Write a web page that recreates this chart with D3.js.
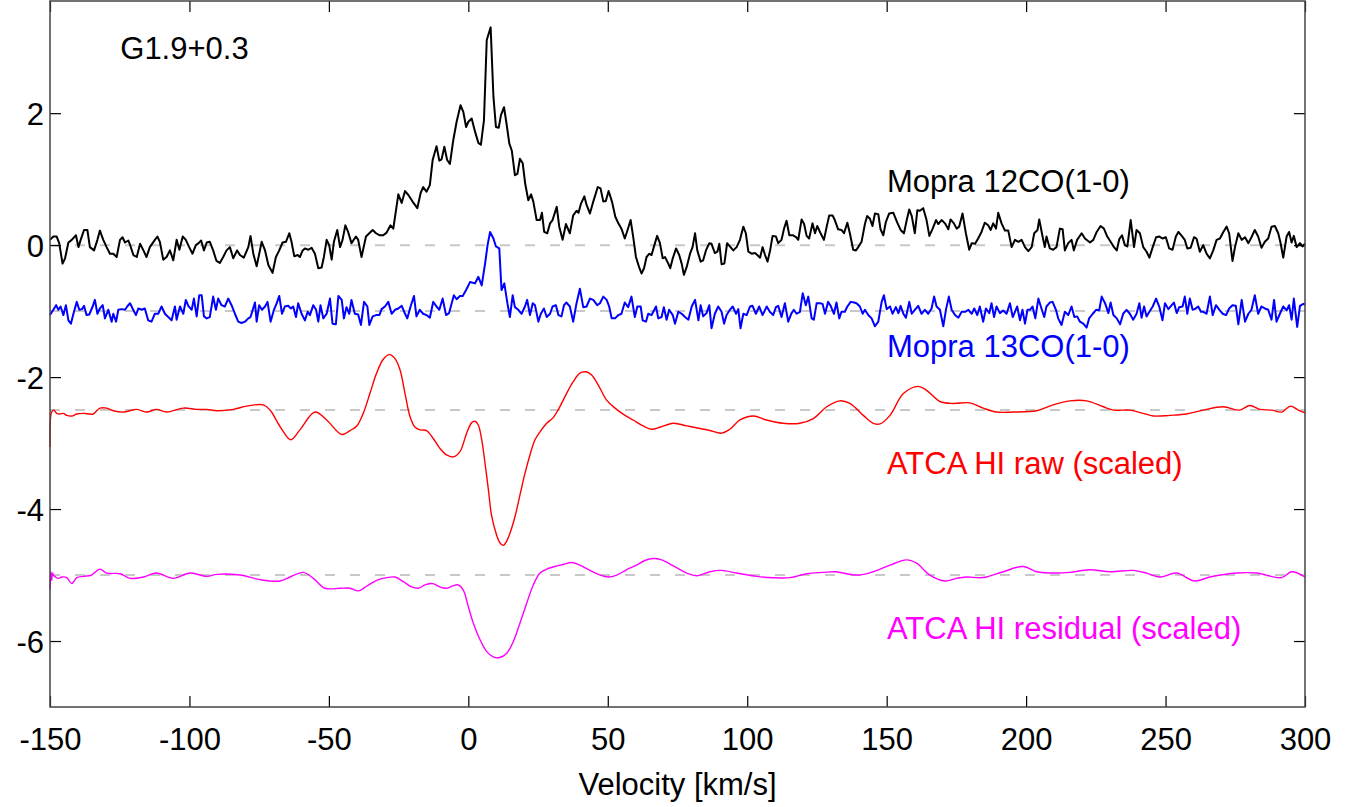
<!DOCTYPE html>
<html>
<head>
<meta charset="utf-8">
<script src="https://cdn.jsdelivr.net/npm/d3@7"></script>
<style>
  body { margin: 0; background: #fff; }
  text { font-family: "Liberation Sans", Arial, Helvetica, sans-serif; }
</style>
</head>
<body>
<div class="chart"></div>
<script>
// spectra: [velocity km/s, value]
const co12 = [
[-150.0,0.08],[-148.8,0.13],[-147.6,0.13],[-146.7,0.03],[-145.5,-0.28],[-144.6,-0.20],[-143.4,0.04],[-142.2,0.08],[-140.7,0.15],[-139.8,-0.03],
[-139.0,0.08],[-137.8,0.23],[-136.6,0.23],[-135.7,-0.03],[-134.2,-0.08],[-133.0,0.08],[-132.1,0.22],[-130.9,0.08],[-129.7,-0.03],[-128.5,-0.13],
[-127.3,-0.13],[-126.1,-0.18],[-124.9,0.08],[-124.0,0.12],[-123.1,0.04],[-121.9,0.07],[-121.1,-0.02],[-120.1,-0.15],[-118.9,-0.18],[-117.7,0.02],
[-116.5,-0.08],[-115.4,-0.18],[-114.2,-0.03],[-112.4,0.08],[-111.5,0.13],[-110.6,0.05],[-109.4,-0.22],[-108.2,-0.18],[-107.0,-0.08],[-105.8,-0.23],
[-104.6,0.08],[-103.6,-0.07],[-102.4,0.13],[-101.3,0.08],[-100.1,-0.03],[-98.9,-0.13],[-97.7,0.00],[-96.7,0.03],[-95.8,0.07],[-94.8,-0.08],
[-93.8,0.04],[-92.7,0.05],[-91.5,-0.08],[-90.3,-0.24],[-89.1,-0.27],[-87.9,-0.18],[-86.7,-0.08],[-85.5,-0.03],[-84.3,-0.20],[-82.9,-0.08],
[-81.9,-0.15],[-80.5,-0.19],[-78.9,-0.03],[-78.1,0.14],[-77.1,-0.13],[-75.9,-0.32],[-74.1,0.05],[-72.9,-0.08],[-71.7,-0.30],[-70.2,-0.42],
[-69.0,-0.18],[-67.8,-0.08],[-66.6,0.04],[-65.4,0.05],[-64.2,0.18],[-63.4,0.05],[-62.4,-0.17],[-61.2,-0.15],[-60.4,-0.18],[-59.4,-0.08],
[-58.6,-0.05],[-57.4,-0.07],[-56.2,-0.04],[-55.0,-0.13],[-53.8,-0.35],[-52.6,-0.34],[-51.8,-0.18],[-50.8,0.08],[-49.9,0.00],[-49.0,-0.22],
[-48.2,0.05],[-47.0,0.23],[-46.0,-0.03],[-45.1,0.08],[-44.1,0.30],[-43.1,0.20],[-41.9,0.03],[-40.3,0.13],[-39.5,0.08],[-38.3,-0.18],
[-36.7,0.13],[-35.5,0.18],[-34.3,0.23],[-33.1,0.18],[-31.9,0.15],[-30.5,0.15],[-29.3,0.19],[-27.9,0.30],[-26.9,0.25],[-25.1,0.77],
[-23.9,0.64],[-22.7,0.82],[-21.5,0.76],[-20.0,0.66],[-18.3,0.56],[-17.1,0.79],[-16.2,0.88],[-15.0,0.81],[-13.8,0.91],[-12.8,1.29],
[-11.4,1.50],[-10.4,1.28],[-9.6,1.30],[-8.6,1.49],[-7.6,1.29],[-6.6,1.23],[-5.4,1.59],[-4.2,1.87],[-2.8,2.12],[-1.8,2.02],
[-0.8,1.79],[0.0,1.87],[1.2,1.92],[2.4,1.72],[3.6,1.55],[4.5,1.52],[5.6,1.89],[6.6,3.11],[8.0,3.30],[9.0,2.25],
[9.9,1.79],[10.9,1.78],[11.7,1.97],[12.8,2.09],[13.7,1.84],[14.7,1.54],[15.6,1.43],[16.7,1.06],[17.6,1.08],[18.5,1.31],
[19.5,1.24],[20.4,0.93],[21.5,0.68],[22.5,0.77],[23.3,0.66],[24.5,0.38],[25.7,0.38],[26.4,0.49],[27.2,0.20],[28.3,0.18],
[29.3,0.33],[30.2,0.38],[31.7,0.58],[32.6,0.28],[33.8,0.08],[35.0,0.32],[36.4,0.18],[37.6,0.45],[38.8,0.52],[39.5,0.49],
[40.4,0.63],[41.6,0.74],[42.4,0.61],[43.6,0.48],[44.8,0.66],[46.4,0.88],[47.4,0.86],[48.4,0.66],[49.3,0.67],[50.3,0.82],
[51.5,0.66],[52.7,0.43],[53.8,0.33],[54.9,0.25],[56.1,0.10],[57.1,0.23],[58.2,0.38],[59.1,0.13],[60.1,-0.18],[61.2,-0.33],
[62.1,-0.43],[63.0,-0.35],[63.9,-0.18],[64.9,-0.13],[65.7,-0.15],[66.5,-0.03],[67.7,0.14],[68.7,0.03],[69.7,-0.20],[70.5,-0.18],
[71.7,-0.28],[72.4,-0.35],[73.3,-0.20],[74.5,-0.05],[75.6,-0.15],[76.5,-0.28],[77.3,-0.45],[78.3,-0.33],[79.5,-0.13],[80.4,-0.03],
[81.3,0.18],[82.1,-0.08],[83.3,-0.25],[84.2,-0.23],[85.2,-0.08],[86.4,0.03],[87.2,0.02],[88.4,-0.12],[89.3,-0.10],[90.0,0.02],
[90.8,-0.29],[91.8,-0.28],[92.8,0.03],[94.0,-0.03],[95.0,-0.08],[96.2,-0.03],[97.4,0.08],[98.6,0.28],[99.5,0.18],[100.4,-0.10],
[101.6,-0.13],[102.8,-0.12],[103.6,-0.15],[104.6,-0.19],[105.5,-0.03],[106.4,-0.15],[107.3,-0.25],[108.2,-0.08],[109.1,0.14],[110.3,0.13],
[111.1,0.03],[112.3,0.08],[113.2,0.25],[114.1,0.37],[115.1,0.15],[116.3,0.15],[117.5,0.12],[118.3,0.08],[119.5,0.39],[120.4,0.32],
[121.3,0.14],[122.2,0.10],[123.4,0.33],[124.3,0.18],[125.1,0.29],[126.3,0.18],[127.5,0.08],[128.5,0.28],[129.4,0.45],[130.6,0.45],
[131.4,0.38],[132.6,0.24],[133.8,0.23],[134.7,0.18],[135.9,0.34],[136.8,0.18],[138.0,-0.07],[139.0,-0.08],[139.8,-0.03],[141.0,0.05],
[142.2,0.32],[143.0,0.44],[144.0,0.40],[144.9,0.29],[145.8,0.48],[147.0,0.47],[147.8,0.24],[148.8,0.15],[149.7,0.35],[150.9,0.48],
[152.4,0.49],[153.8,0.34],[155.0,0.23],[156.2,0.18],[157.2,0.38],[158.1,0.54],[159.0,0.44],[160.1,0.18],[161.0,0.53],[161.9,0.52],
[163.1,0.56],[164.3,0.38],[165.3,0.14],[166.5,0.25],[167.7,0.38],[168.5,0.32],[169.7,0.38],[170.9,0.33],[172.1,0.24],[172.9,0.39],
[174.1,0.33],[175.1,0.25],[176.0,0.28],[177.2,0.48],[178.4,0.18],[179.6,-0.07],[180.5,0.03],[181.7,0.02],[182.8,0.10],[184.0,0.20],
[185.2,0.34],[186.4,0.30],[187.3,0.23],[188.2,0.33],[189.2,0.25],[190.0,0.49],[191.2,0.33],[192.4,0.22],[193.6,0.22],[194.8,-0.03],
[196.0,0.08],[197.2,0.05],[198.4,0.08],[199.6,-0.03],[200.8,-0.09],[202.0,-0.03],[202.9,0.18],[204.1,0.23],[204.7,0.39],[205.9,0.13],
[206.7,-0.03],[207.3,0.13],[208.5,-0.05],[209.7,-0.07],[210.9,-0.03],[212.1,0.25],[213.1,0.24],[213.9,-0.08],[215.1,0.03],[216.3,0.08],
[217.1,-0.08],[218.3,0.08],[219.9,0.18],[221.1,0.10],[222.9,0.04],[224.1,0.08],[225.3,0.20],[226.7,0.29],[227.9,0.25],[229.1,0.13],
[230.3,0.05],[231.5,-0.03],[232.5,-0.08],[233.4,0.09],[234.4,0.15],[235.4,0.00],[236.3,-0.02],[237.5,0.38],[238.7,-0.03],[239.6,0.23],
[240.8,0.18],[242.0,-0.03],[243.2,-0.10],[244.2,-0.19],[245.4,-0.03],[246.6,0.12],[247.8,0.13],[248.9,0.10],[250.1,0.12],[251.3,-0.05],
[252.5,-0.07],[253.7,0.13],[254.6,0.20],[255.8,0.14],[256.9,0.08],[257.8,-0.05],[259.0,-0.04],[260.2,0.12],[261.1,0.10],[262.3,-0.10],
[263.5,0.00],[264.7,-0.13],[265.9,-0.20],[267.1,-0.08],[268.3,0.08],[269.5,0.10],[270.7,0.20],[271.9,0.28],[272.8,0.18],[274.0,-0.24],
[274.9,-0.03],[276.1,0.18],[277.3,0.08],[278.5,0.12],[279.7,0.03],[280.8,0.12],[282.0,0.23],[283.2,0.13],[284.4,-0.04],[285.6,0.05],
[286.8,0.10],[288.0,0.28],[289.2,0.29],[290.4,0.18],[291.2,0.04],[292.2,-0.19],[293.4,0.13],[294.3,0.20],[295.2,0.04],[296.0,0.14],
[297.0,-0.03],[298.2,0.03],[299.1,-0.02],[300.0,0.02]
];

const co13 = [
[-150.0,-1.06],[-148.8,-0.98],[-147.8,-0.91],[-147.0,-0.98],[-146.2,-0.93],[-145.2,-1.06],[-144.3,-0.91],[-143.4,-1.14],[-142.5,-1.19],[-141.6,-1.04],
[-140.4,-0.86],[-139.5,-0.98],[-138.5,-0.97],[-137.8,-0.92],[-136.9,-1.06],[-135.9,-1.05],[-134.7,-0.93],[-133.9,-0.83],[-133.0,-1.04],[-132.1,-0.96],
[-131.1,-0.91],[-130.3,-1.11],[-129.1,-0.98],[-127.9,-1.16],[-127.3,-1.04],[-126.3,-1.16],[-125.5,-0.98],[-124.3,-0.97],[-123.1,-0.98],[-122.3,-0.93],
[-121.3,-0.88],[-120.4,-0.96],[-119.2,-1.06],[-118.3,-0.96],[-117.1,-0.98],[-116.0,-0.96],[-114.8,-1.14],[-113.6,-1.16],[-112.4,-1.04],[-111.2,-1.04],
[-110.0,-0.93],[-108.8,-1.04],[-107.6,-1.09],[-106.4,-1.14],[-105.2,-0.93],[-104.6,-1.13],[-103.4,-0.93],[-102.2,-1.04],[-101.3,-0.83],[-100.4,-0.92],
[-99.2,-0.98],[-98.4,-0.81],[-97.4,-1.08],[-96.5,-0.76],[-95.6,-0.76],[-94.8,-1.08],[-93.8,-1.11],[-92.7,-1.09],[-91.5,-0.78],[-90.5,-0.98],
[-89.7,-0.81],[-88.5,-0.91],[-87.3,-0.93],[-86.1,-0.81],[-84.9,-0.91],[-83.7,-1.04],[-82.5,-1.16],[-81.3,-1.18],[-80.1,-1.16],[-78.9,-1.11],
[-78.1,-1.09],[-77.3,-0.98],[-76.5,-0.87],[-75.9,-1.16],[-75.0,-0.91],[-74.0,-0.98],[-72.9,-0.93],[-72.0,-0.86],[-70.9,-1.16],[-69.7,-0.98],
[-68.7,-0.88],[-67.8,-0.77],[-66.8,-1.04],[-65.8,-0.93],[-64.6,-0.92],[-63.6,-0.96],[-62.8,-0.93],[-61.8,-1.09],[-61.0,-0.88],[-59.8,-1.04],
[-58.6,-1.14],[-57.6,-1.01],[-56.8,-1.06],[-55.6,-0.91],[-54.6,-0.98],[-53.8,-1.16],[-53.0,-0.91],[-52.0,-1.11],[-50.8,-1.04],[-49.6,-0.81],
[-48.7,-1.19],[-47.5,-1.20],[-46.6,-0.77],[-45.4,-0.83],[-44.6,-1.11],[-43.7,-0.94],[-42.7,-1.04],[-41.9,-0.83],[-40.7,-1.04],[-39.5,-1.05],
[-38.5,-1.21],[-37.4,-0.86],[-36.2,-0.93],[-35.5,-1.21],[-34.3,-1.08],[-33.1,-1.06],[-31.9,-1.06],[-31.1,-0.97],[-29.9,-0.93],[-28.7,-0.86],
[-27.5,-1.04],[-26.3,-0.98],[-25.1,-0.96],[-23.9,-0.92],[-22.7,-1.04],[-21.9,-1.11],[-20.7,-0.93],[-19.5,-0.77],[-18.6,-1.08],[-17.4,-0.98],
[-16.2,-1.04],[-15.0,-1.06],[-13.8,-1.10],[-12.6,-0.86],[-11.4,-0.93],[-10.4,-0.98],[-9.2,-0.81],[-8.0,-1.06],[-6.9,-1.03],[-5.2,-0.76],
[-4.2,-0.82],[-3.0,-0.77],[-2.0,-0.77],[-0.8,-0.68],[0.6,-0.56],[2.4,-0.58],[3.6,-0.48],[4.8,-0.61],[6.0,-0.28],[6.9,0.00],
[7.8,0.20],[9.0,0.10],[9.9,-0.02],[11.1,-0.05],[11.9,-0.68],[12.9,-0.58],[14.0,-0.88],[14.9,-1.09],[15.9,-0.76],[16.7,-0.94],
[17.9,-0.98],[19.1,-1.04],[20.3,-0.93],[21.1,-0.83],[22.1,-1.06],[23.1,-0.88],[23.9,-0.91],[25.1,-1.16],[26.0,-1.04],[27.1,-0.96],
[28.1,-1.09],[29.3,-1.04],[30.2,-0.93],[31.4,-0.91],[32.3,-1.06],[33.4,-1.08],[34.3,-0.91],[35.2,-0.87],[36.4,-0.93],[37.6,-1.16],
[38.8,-0.88],[40.0,-0.66],[41.2,-0.94],[42.4,-0.93],[43.6,-0.81],[44.8,-0.83],[46.2,-0.91],[47.2,-0.88],[48.4,-0.78],[49.6,-0.83],
[50.5,-0.93],[51.4,-1.11],[52.6,-1.11],[53.8,-1.06],[54.9,-1.04],[56.1,-0.87],[57.3,-0.94],[58.5,-0.78],[59.7,-1.09],[60.6,-0.93],
[61.8,-0.93],[62.5,-1.14],[63.7,-1.16],[64.5,-1.04],[65.7,-1.06],[67.3,-0.93],[68.1,-1.11],[69.3,-1.09],[70.1,-0.94],[71.1,-1.13],
[72.0,-0.98],[73.3,-1.06],[74.1,-1.19],[75.3,-1.01],[76.5,-1.04],[77.7,-1.09],[78.9,-1.13],[80.1,-0.93],[81.3,-0.83],[82.5,-1.14],
[83.3,-0.91],[84.2,-1.08],[85.4,-1.03],[86.4,-0.91],[87.2,-1.26],[88.4,-1.04],[89.6,-0.93],[90.8,-1.01],[91.7,-1.19],[92.6,-1.06],
[93.8,-0.98],[94.8,-0.93],[96.0,-1.04],[96.8,-0.97],[97.6,-1.26],[98.6,-1.04],[99.8,-1.06],[101.0,-0.93],[101.9,-0.92],[103.1,-1.04],
[104.3,-0.93],[105.5,-1.06],[107.0,-0.93],[108.1,-1.01],[109.3,-1.06],[110.3,-0.94],[111.1,-0.92],[112.3,-1.09],[113.5,-0.88],[114.7,-1.16],
[115.9,-1.03],[116.7,-0.98],[117.7,-1.04],[118.9,-1.01],[119.9,-0.73],[121.0,-0.91],[121.9,-0.78],[123.1,-1.11],[123.9,-1.13],[124.9,-0.88],
[126.1,-0.88],[127.0,-0.89],[127.9,-1.04],[129.0,-0.86],[129.9,-0.92],[131.1,-1.04],[132.0,-0.87],[133.0,-1.11],[133.8,-1.01],[135.0,-1.01],
[135.9,-0.93],[137.1,-0.86],[138.3,-0.87],[139.2,-0.88],[140.4,-0.93],[141.4,-1.04],[142.2,-0.98],[143.4,-1.06],[144.6,-1.11],[145.8,-1.23],
[147.0,-1.16],[148.2,-0.86],[149.0,-0.76],[150.0,-0.97],[151.2,-0.93],[152.1,-1.04],[153.3,-0.94],[154.2,-1.03],[155.0,-0.92],[156.0,-1.04],
[156.9,-1.10],[158.1,-0.86],[159.0,-1.04],[160.1,-0.98],[161.3,-0.92],[162.5,-1.04],[163.7,-0.98],[164.9,-1.04],[166.1,-0.96],[167.0,-0.78],
[167.9,-0.93],[169.1,-0.98],[170.3,-1.23],[171.3,-0.97],[172.3,-0.78],[173.3,-0.98],[174.5,-1.06],[175.7,-1.10],[176.9,-1.01],[178.1,-1.01],
[179.3,-0.98],[180.5,-1.04],[181.4,-0.96],[182.5,-1.06],[183.4,-0.93],[184.6,-1.16],[185.6,-0.96],[186.8,-1.03],[187.6,-0.88],[188.5,-1.09],
[189.4,-0.93],[190.6,-1.03],[191.8,-0.99],[193.0,-1.04],[194.2,-0.88],[195.2,-1.09],[196.0,-1.01],[196.8,-0.93],[197.8,-1.14],[198.7,-0.98],
[199.6,-1.19],[200.5,-0.98],[201.4,-0.98],[202.3,-0.93],[203.3,-1.11],[204.4,-0.81],[205.5,-0.96],[206.5,-1.09],[207.3,-0.93],[208.5,-0.87],
[209.5,-0.86],[210.7,-0.98],[211.5,-1.11],[212.7,-1.21],[213.9,-1.01],[215.1,-1.06],[216.3,-0.93],[217.3,-1.09],[218.3,-1.08],[219.3,-1.16],
[220.5,-1.19],[221.7,-1.25],[222.6,-1.11],[223.9,-1.04],[225.1,-0.98],[226.2,-0.99],[227.1,-0.78],[228.3,-0.88],[229.5,-1.03],[230.3,-0.87],
[231.3,-1.06],[232.5,-1.11],[233.7,-1.20],[234.8,-1.04],[236.0,-0.98],[237.2,-1.04],[238.4,-1.13],[239.6,-1.04],[240.6,-0.88],[241.4,-1.10],
[242.3,-0.93],[243.2,-1.08],[244.2,-1.01],[245.4,-0.93],[246.6,-0.81],[247.8,-0.94],[248.9,-1.14],[249.8,-0.88],[251.0,-0.97],[252.2,-0.91],
[253.0,-0.87],[254.0,-1.03],[254.9,-0.94],[256.1,-0.93],[256.9,-0.78],[257.8,-1.04],[258.7,-0.81],[259.7,-0.98],[260.5,-0.97],[261.7,-0.93],
[262.7,-1.01],[263.5,-1.01],[264.7,-1.04],[265.9,-0.78],[266.9,-1.06],[268.1,-0.91],[269.3,-0.98],[270.5,-1.04],[271.7,-1.06],[272.8,-0.96],
[274.0,-0.91],[275.2,-0.92],[276.1,-1.20],[277.3,-0.83],[278.5,-1.16],[279.7,-1.04],[280.8,-0.98],[282.0,-0.76],[283.2,-1.04],[284.4,-0.93],
[285.6,-0.96],[286.8,-0.98],[288.0,-1.13],[288.9,-0.83],[289.8,-1.16],[291.0,-1.04],[292.2,-0.93],[293.4,-0.99],[294.3,-0.91],[295.2,-1.13],
[296.0,-0.81],[297.2,-1.24],[298.2,-0.92],[299.4,-0.89],[300.0,-0.90]
];

const hiRaw = [
[-150.0,-3.06],[-149.4,-2.53],[-148.6,-2.50],[-147.6,-2.55],[-146.4,-2.56],[-145.2,-2.55],[-144.0,-2.58],[-142.2,-2.59],[-140.4,-2.56],[-138.0,-2.55],
[-135.7,-2.56],[-134.5,-2.56],[-132.1,-2.47],[-129.7,-2.47],[-127.3,-2.51],[-123.7,-2.53],[-118.9,-2.49],[-115.3,-2.53],[-111.8,-2.49],[-108.2,-2.53],
[-102.2,-2.47],[-97.4,-2.49],[-93.8,-2.49],[-90.2,-2.51],[-84.3,-2.49],[-79.5,-2.44],[-73.5,-2.42],[-71.1,-2.50],[-67.5,-2.75],[-63.7,-2.95],
[-60.4,-2.80],[-55.0,-2.53],[-50.8,-2.65],[-45.4,-2.87],[-42.4,-2.81],[-40.0,-2.74],[-37.7,-2.55],[-35.3,-2.25],[-32.9,-1.94],[-30.5,-1.73],
[-28.3,-1.66],[-26.3,-1.72],[-24.5,-1.89],[-22.7,-2.25],[-20.9,-2.60],[-19.1,-2.76],[-17.3,-2.80],[-15.0,-2.81],[-12.6,-2.93],[-10.2,-3.08],
[-7.8,-3.18],[-5.4,-3.21],[-3.0,-3.13],[-0.6,-2.85],[1.2,-2.69],[2.4,-2.67],[3.6,-2.73],[4.8,-2.95],[6.0,-3.31],[7.2,-3.71],
[8.3,-4.09],[10.1,-4.39],[11.3,-4.51],[12.5,-4.55],[13.7,-4.49],[14.9,-4.37],[16.7,-4.12],[18.5,-3.79],[20.3,-3.46],[22.1,-3.18],
[23.9,-2.95],[25.7,-2.83],[28.1,-2.70],[30.5,-2.61],[32.8,-2.45],[35.2,-2.25],[37.6,-2.07],[40.0,-1.94],[42.2,-1.92],[44.2,-1.97],
[46.6,-2.12],[49.6,-2.35],[52.6,-2.47],[55.5,-2.56],[59.1,-2.65],[62.7,-2.74],[65.7,-2.79],[68.7,-2.76],[73.5,-2.70],[78.3,-2.74],
[83.1,-2.78],[86.6,-2.81],[90.8,-2.85],[93.8,-2.79],[97.4,-2.65],[102.2,-2.59],[106.9,-2.65],[112.9,-2.70],[118.9,-2.70],[123.7,-2.63],
[128.5,-2.45],[133.2,-2.36],[136.8,-2.40],[141.6,-2.58],[145.2,-2.70],[147.6,-2.71],[151.2,-2.58],[156.0,-2.25],[161.3,-2.14],[164.3,-2.20],
[169.1,-2.37],[173.9,-2.40],[179.8,-2.39],[184.6,-2.47],[189.4,-2.53],[195.4,-2.53],[203.8,-2.51],[209.7,-2.42],[215.7,-2.36],[221.7,-2.36],
[227.7,-2.45],[231.3,-2.50],[237.2,-2.50],[242.0,-2.55],[245.6,-2.59],[251.6,-2.58],[257.5,-2.56],[263.5,-2.50],[270.7,-2.45],[276.6,-2.50],
[280.2,-2.43],[283.8,-2.49],[288.0,-2.50],[291.6,-2.53],[294.8,-2.44],[297.6,-2.50],[300.0,-2.54]
];

const hiRes = [
[-150.0,-5.22],[-149.7,-4.95],[-149.4,-5.08],[-149.1,-4.97],[-148.8,-5.00],[-147.0,-5.05],[-145.8,-5.03],[-144.0,-5.04],[-142.2,-5.13],[-140.4,-5.04],
[-138.0,-5.02],[-135.1,-5.00],[-132.1,-4.91],[-129.7,-4.97],[-124.9,-4.98],[-121.3,-5.05],[-116.5,-5.03],[-111.8,-4.97],[-105.8,-5.05],[-99.8,-4.97],
[-93.8,-5.02],[-90.2,-4.99],[-81.9,-5.00],[-74.7,-5.07],[-67.5,-5.09],[-63.9,-5.03],[-59.2,-4.96],[-55.6,-5.05],[-51.4,-5.20],[-46.0,-5.20],
[-42.4,-5.20],[-39.4,-5.24],[-36.5,-5.17],[-32.9,-5.08],[-29.3,-5.04],[-26.3,-5.03],[-23.3,-5.10],[-20.3,-5.18],[-17.9,-5.20],[-15.5,-5.15],
[-12.8,-5.13],[-10.2,-5.18],[-7.8,-5.20],[-5.4,-5.16],[-3.6,-5.15],[-1.8,-5.23],[0.0,-5.48],[1.8,-5.73],[4.2,-5.98],[6.6,-6.16],
[8.9,-6.24],[11.3,-6.25],[13.7,-6.19],[16.1,-6.01],[18.5,-5.73],[20.9,-5.43],[23.3,-5.15],[25.7,-4.97],[28.1,-4.91],[31.0,-4.87],
[34.0,-4.84],[37.0,-4.81],[40.0,-4.85],[43.6,-4.93],[47.2,-5.00],[50.2,-5.03],[53.2,-5.00],[56.7,-4.92],[60.3,-4.85],[63.3,-4.78],
[66.3,-4.75],[69.3,-4.77],[73.5,-4.86],[78.3,-4.97],[81.9,-5.01],[86.6,-4.95],[90.8,-4.93],[96.2,-4.97],[103.4,-5.02],[109.3,-5.04],
[115.3,-5.04],[121.3,-4.98],[127.3,-4.96],[131.5,-4.95],[135.6,-4.98],[140.4,-5.00],[145.2,-4.95],[151.2,-4.85],[157.1,-4.77],[160.7,-4.82],
[165.5,-5.00],[170.9,-5.09],[175.0,-5.05],[178.6,-5.03],[183.4,-5.04],[185.8,-5.03],[191.8,-4.95],[199.0,-4.87],[203.8,-4.95],[211.0,-4.97],
[215.7,-4.96],[222.9,-4.92],[230.1,-4.95],[238.4,-4.93],[243.2,-4.97],[248.0,-5.03],[253.9,-4.97],[260.5,-5.09],[265.9,-5.03],[275.5,-4.97],
[282.6,-4.97],[291.6,-5.04],[295.2,-4.95],[300.0,-5.03]
];

const baselines = [0, -1, -2.5, -5];
const xTicks = [-150, -100, -50, 0, 50, 100, 150, 200, 250, 300];
const yTicks = [-6, -4, -2, 0, 2];

// layout
var margin = {top: 1, right: 57, bottom: 100, left: 50},
    width = 1362 - margin.left - margin.right,
    height = 807 - margin.top - margin.bottom;

const svg = d3.select('.chart')
    .append('svg')
    .attr('width', 1362)
    .attr('height', 807)
    .append('g')
    .attr('transform', 'translate(' + margin.left + ',' + margin.top + ')');

const xScale = d3.scaleLinear().domain([-150, 300]).range([0, width]);
const yScale = d3.scaleLinear().domain([-7, 3.7]).range([height, 0]);

const fontSize = 31;
const plain = d => String(d);   // hyphen minus, like the original

// zero lines for each offset spectrum
svg.append('g')
    .selectAll('line')
    .data(baselines)
    .enter()
    .append('line')
    .attr('x1', xScale(-150))
    .attr('x2', xScale(300))
    .attr('y1', d => yScale(d))
    .attr('y2', d => yScale(d))
    .attr('stroke', '#c8c8c8')
    .attr('stroke-width', 2)
    .attr('stroke-dasharray', '10,15');

const straight = d3.line()
    .x(d => xScale(d[0]))
    .y(d => yScale(d[1]));

const smooth = d3.line()
    .curve(d3.curveCatmullRom.alpha(0.5))
    .x(d => xScale(d[0]))
    .y(d => yScale(d[1]));

const series = [
    {data: hiRes, color: '#ff00ff', width: 1.4, line: smooth},
    {data: hiRaw, color: '#ff0000', width: 1.4, line: smooth},
    {data: co13, color: '#0000ff', width: 2, line: straight},
    {data: co12, color: '#000000', width: 2, line: straight}
];

series.forEach(s => {
    svg.append('path')
        .datum(s.data)
        .attr('d', s.line)
        .attr('fill', 'none')
        .attr('stroke', s.color)
        .attr('stroke-width', s.width)
        .attr('stroke-linejoin', 'round');
});

// axes, ticks pointing inward on all four sides
const styleAxis = g => {
    g.select('.domain').remove();
    g.selectAll('.tick line').attr('stroke', '#000').attr('stroke-width', 1.2);
    g.selectAll('.tick text')
        .attr('font-size', fontSize)
        .attr('font-family', '"Liberation Sans", Arial, sans-serif')
        .attr('fill', '#000');
};

svg.append('g')
    .attr('transform', `translate(0,${height})`)
    .call(d3.axisBottom(xScale).tickValues(xTicks).tickFormat(plain).tickSize(-11).tickPadding(21))
    .call(styleAxis);

svg.append('g')
    .call(d3.axisTop(xScale).tickValues(xTicks).tickSize(-11).tickFormat(''))
    .call(styleAxis);

svg.append('g')
    .call(d3.axisLeft(yScale).tickValues(yTicks).tickFormat(plain).tickSize(-11).tickPadding(6))
    .call(styleAxis)
    .call(g => g.selectAll('.tick text').attr('dy', '0.36em'));

svg.append('g')
    .attr('transform', `translate(${width},0)`)
    .call(d3.axisRight(yScale).tickValues(yTicks).tickSize(-11).tickFormat(''))
    .call(styleAxis);

svg.append('rect')
    .attr('x', 0)
    .attr('y', 0)
    .attr('width', width)
    .attr('height', height)
    .attr('fill', 'none')
    .attr('stroke', '#444')
    .attr('stroke-width', 1.5);

// labels
const labels = [
    {text: 'G1.9+0.3', x: -124.8, y: 59, color: '#000'},
    {text: 'Mopra 12CO(1-0)', x: 150.1, y: 192, color: '#000'},
    {text: 'Mopra 13CO(1-0)', x: 150.1, y: 357, color: '#0000ff'},
    {text: 'ATCA HI raw (scaled)', x: 150.1, y: 474, color: '#ff0000'},
    {text: 'ATCA HI residual (scaled)', x: 150.1, y: 639, color: '#ff00ff'}
];

svg.append('g')
    .selectAll('text')
    .data(labels)
    .enter()
    .append('text')
    .attr('x', d => xScale(d.x))
    .attr('y', d => d.y - margin.top)
    .attr('fill', d => d.color)
    .attr('font-size', fontSize)
    .text(d => d.text);

svg.append('text')
    .attr('x', width / 2)
    .attr('y', 795 - margin.top)
    .attr('text-anchor', 'middle')
    .attr('font-size', fontSize)
    .attr('fill', '#000')
    .text('Velocity [km/s]');
</script>
</body>
</html>
